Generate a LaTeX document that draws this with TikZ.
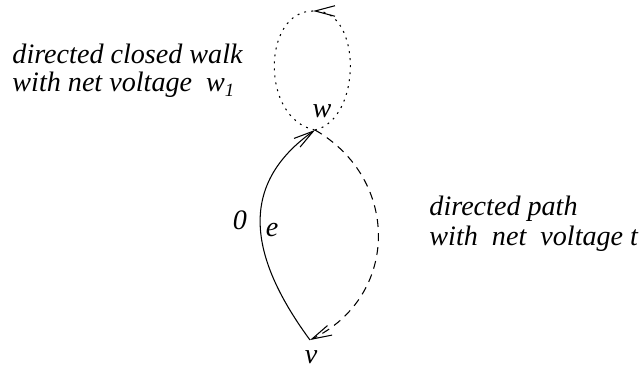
\documentclass[tikz,border=0pt]{standalone}
\usepackage{fontspec}
\setmainfont{Liberation Serif}
\usetikzlibrary{arrows.meta}

\begin{document}
\begin{tikzpicture}[x=0.015cm, y=0.015cm,
  lbl/.style={font=\fontsize{12}{12}\selectfont\itshape, inner sep=0pt},
  vtip/.style={-{Straight Barb[length=8.5pt, width=4.5pt]}},
  thinline/.style={line width=0.45pt}]
  \useasboundingbox (0,0) rectangle (642,369);
  \coordinate (w) at (315,239);
  \coordinate (v) at (310,29);
  \coordinate (top) at (313,358);
  % edge e, from v up to w
  \draw[thinline, vtip] (v) .. controls (243,120) and (243,188) .. (w);
  % directed path, from w back to v
  \draw[thinline, vtip, dash pattern=on 3.4pt off 2.6pt] (w) .. controls (400,190) and (400,73) .. (v);
  % closed walk at w
  \draw[thinline, vtip, dash pattern=on 0.8pt off 2.2pt] (w) .. controls (362,250) and (362,358) .. (top);
  \draw[thinline, dash pattern=on 0.8pt off 2.2pt] (top) .. controls (262,358) and (260,250) .. (w);
  \node[lbl] (wlbl) at (322,258) {w};
  \node[lbl] (vlbl) at (311,12) {v};
  \node[lbl] (zero) at (240,149) {0};
  \node[lbl] (elbl) at (272,139) {e};
  \node[lbl, anchor=base west] (walk1) at (12,305) {directed closed walk};
  \node[lbl, anchor=base west] (walk2) at (12,277) {with net voltage~~w\raisebox{-0.35ex}{\fontsize{8}{8}\selectfont 1}};
  \node[lbl, anchor=base west] (path1) at (429,153) {directed path};
  \node[lbl, anchor=base west] (path2) at (429,123) {with~~net~~voltage t};
\end{tikzpicture}
\end{document}
